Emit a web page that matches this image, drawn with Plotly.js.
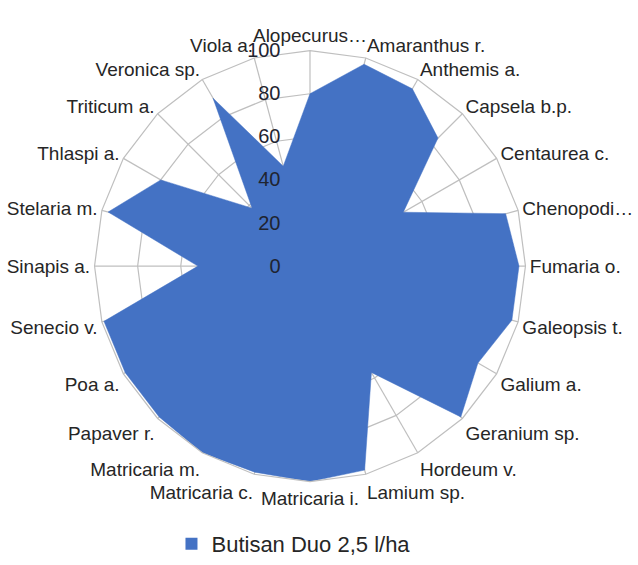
<!DOCTYPE html>
<html>
<head>
<meta charset="utf-8">
<script src="https://cdn.plot.ly/plotly-3.0.1.min.js"></script>
<style>html,body{margin:0;padding:0;background:#fff}#chart{width:638px;height:565px}</style>
</head>
<body>
<div id="chart"></div>
<script>
const categories = ["Alopecurus…","Amaranthus r.","Anthemis a.","Capsela b.p.","Centaurea c.","Chenopodi…","Fumaria o.","Galeopsis t.","Galium a.","Geranium sp.","Hordeum v.","Lamium sp.","Matricaria i.","Matricaria c.","Matricaria m.","Papaver r.","Poa a.","Senecio v.","Sinapis a.","Stelaria m.","Thlaspi a.","Triticum a.","Veronica sp.","Viola a."];
const values = [80,97,95,84,50,94,97,97,90,99,57,98,100,99,100,99,99,99,52,97,80,38,90,48];
const seriesName = "Butisan Duo 2,5 l/ha";
const radialTicks = [0,20,40,60,80,100];
const seriesColor = '#4472C4';

const trace = {
  type: 'scatterpolar',
  r: values.concat([values[0]]),
  theta: categories.concat([categories[0]]),
  name: seriesName,
  fill: 'toself',
  fillcolor: seriesColor,
  line: {color: seriesColor, width: 0.5},
  mode: 'lines',
  showlegend: false
};

// legend-only entry with a square key, like the original
const legendKey = {
  type: 'scatterpolar',
  r: [null], theta: [categories[0]],
  name: seriesName,
  mode: 'markers',
  marker: {symbol: 'square', size: 12, color: seriesColor},
  showlegend: true,
  hoverinfo: 'skip'
};

const layout = {
  width: 638, height: 565,
  margin: {l: 0, r: 0, t: 0, b: 0},
  paper_bgcolor: '#fff',
  font: {family: 'Liberation Sans, Arial, sans-serif', color: '#262626'},
  showlegend: true,
  legend: {orientation: 'h', x: 0.46, xanchor: 'center', y: 0.03, yanchor: 'middle',
           font: {size: 22, color: '#262626'}, itemwidth: 30},
  polar: {
    domain: {x: [93/638, 527/638], y: [80/565, 514/565]},
    bgcolor: '#fff',
    gridshape: 'linear',
    angularaxis: {
      type: 'category',
      categoryarray: categories,
      rotation: 90,
      direction: 'clockwise',
      showline: true, linecolor: '#BFBFBF', linewidth: 1.2,
      gridcolor: '#BFBFBF', gridwidth: 1.2,
      ticks: '',
      tickfont: {size: 19, color: '#262626'}
    },
    radialaxis: {
      range: [0, 100],
      tickvals: radialTicks,
      ticktext: radialTicks.map(String),
      angle: 90,
      side: 'counterclockwise',
      showline: false,
      gridcolor: '#BFBFBF', gridwidth: 1.2,
      ticks: 'outside', ticklen: 22, tickcolor: 'rgba(0,0,0,0)',
      tickangle: 90,
      tickfont: {size: 20, color: '#1f2430'},
      layer: 'above traces'
    }
  }
};

Plotly.newPlot('chart', [trace, legendKey], layout, {displayModeBar: false, staticPlot: true});
</script>
</body>
</html>
